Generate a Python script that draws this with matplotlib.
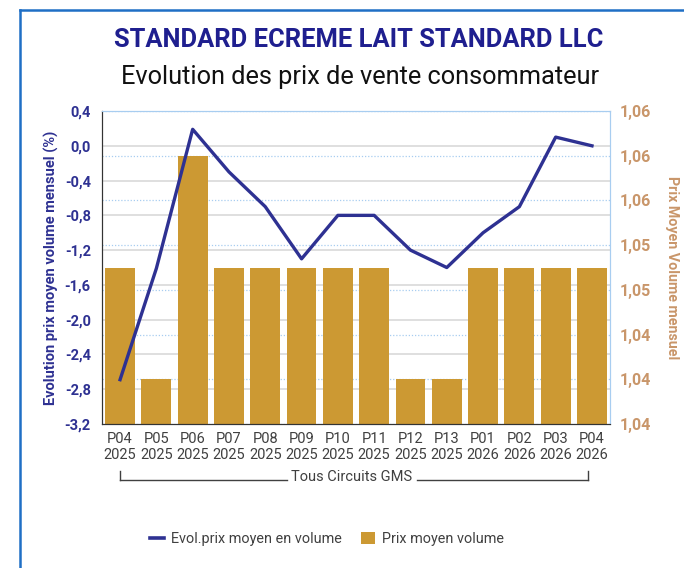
import matplotlib
matplotlib.use("Agg")
import matplotlib.pyplot as plt
from matplotlib.lines import Line2D
from matplotlib.patches import Patch

plt.rcParams["font.family"] = ["Roboto", "DejaVu Sans"]

periods = ["P04", "P05", "P06", "P07", "P08", "P09", "P10",
           "P11", "P12", "P13", "P01", "P02", "P03", "P04"]
years = ["2025"] * 10 + ["2026"] * 4
evol_pct = [-2.69, -1.41, 0.19, -0.30, -0.70, -1.30, -0.80,
            -0.80, -1.20, -1.40, -1.00, -0.70, 0.10, 0.00]
prix_moyen = [1.05, 1.04, 1.06, 1.05, 1.05, 1.05, 1.05,
              1.05, 1.04, 1.04, 1.05, 1.05, 1.05, 1.05]
left_ticks = [-3.2, -2.8, -2.4, -2.0, -1.6, -1.2, -0.8, -0.4, 0.0, 0.4]
right_ticks = [1.036, 1.040, 1.044, 1.048, 1.052, 1.056, 1.060, 1.064]

NAVY = "#2e3192"
GOLD = "#cc9933"
TAN = "#c9966a"
GREY = "#404040"

fig = plt.figure(figsize=(6.84, 5.68), dpi=100)
ax = fig.add_axes([0.149, 0.2535, 0.743, 0.551])
ax2 = ax.twinx()

# bars belong to the right axis, line to the left one
ax.set_zorder(ax2.get_zorder() + 1)
ax.patch.set_visible(False)

x = list(range(len(periods)))
ax2.bar(x, [v - right_ticks[0] for v in prix_moyen], bottom=right_ticks[0],
        width=0.82, color=GOLD, zorder=2)
ax2.set_ylim(right_ticks[0], right_ticks[-1])
ax2.set_yticks(right_ticks)
ax2.set_yticklabels([f"{v:.2f}".replace(".", ",") for v in right_ticks],
                    fontweight="bold")
ax2.tick_params(axis="y", colors=TAN, labelsize=11.5, length=0, pad=7)
ax2.grid(axis="y", color="#a8cdf0", linestyle=(0, (1, 1.5)), linewidth=0.9)
ax2.set_ylabel("Prix Moyen Volume mensuel", rotation=270, labelpad=20,
               color=TAN, fontsize=10.3, fontweight="bold")

ax.plot(x, evol_pct, color=NAVY, linewidth=2.4, zorder=4)
ax.set_ylim(left_ticks[0], left_ticks[-1])
ax.set_yticks(left_ticks)
ax.set_yticklabels([f"{v:.1f}".replace(".", ",") for v in left_ticks],
                   fontweight="bold")
ax.tick_params(axis="y", colors=NAVY, labelsize=10.5, length=0, pad=8)
ax.set_ylabel("Evolution prix moyen volume mensuel (%)", color=NAVY,
              fontsize=10.5, fontweight="bold", labelpad=4)

ax.set_xlim(-0.5, len(periods) - 0.5)
ax.set_xticks(x)
ax.set_xticklabels([f"{p}\n{y}" for p, y in zip(periods, years)],
                   color=GREY, fontsize=10.5, linespacing=1.15)
ax.tick_params(axis="x", length=0, pad=6)

# solid grey grid of the left axis, drawn under the bars
for t in left_ticks[1:-1]:
    ax2.axhline(right_ticks[0] + (t - left_ticks[0]) / (left_ticks[-1] - left_ticks[0])
                * (right_ticks[-1] - right_ticks[0]),
                color="#d9d9d9", linewidth=1.2, zorder=0.5)

for a in (ax, ax2):
    a.spines["top"].set_color("#a8cdf0")
    a.spines["right"].set_color("#a8cdf0")
    a.spines["left"].set_color("#333333")
    a.spines["bottom"].set_color("#333333")

# group bracket under the axis
y_br = 1 - 480 / 568
fig.add_artist(Line2D([120 / 684, 287 / 684], [y_br, y_br], color=GREY, lw=1))
fig.add_artist(Line2D([417 / 684, 588 / 684], [y_br, y_br], color=GREY, lw=1))
fig.add_artist(Line2D([120 / 684, 120 / 684], [y_br, y_br + 9 / 568], color=GREY, lw=1))
fig.add_artist(Line2D([588 / 684, 588 / 684], [y_br, y_br + 9 / 568], color=GREY, lw=1))
fig.text(352 / 684, 1 - 477 / 568, "Tous Circuits GMS", ha="center", va="center",
         color=GREY, fontsize=10.5)

fig.text(359 / 684, 1 - 40 / 568, "STANDARD ECREME LAIT STANDARD LLC", ha="center",
         va="center", color="#1f1f8f", fontsize=18.4, fontweight="bold")
fig.text(360 / 684, 1 - 77 / 568, "Evolution des prix de vente consommateur",
         ha="center", va="center", color="#111111", fontsize=18.3)

handles = [Line2D([0], [0], color=NAVY, lw=2.6),
           Patch(facecolor=GOLD, edgecolor="none")]
fig.legend(handles, ["Evol.prix moyen en volume", "Prix moyen volume"],
           loc="center", bbox_to_anchor=(327 / 684, 1 - 539 / 568), ncol=2,
           frameon=False, fontsize=10.4, handlelength=1.0, handleheight=0.9,
           columnspacing=1.3, handletextpad=0.5, labelcolor=GREY)

# outer frame
fig.add_artist(Line2D([20 / 684, 20 / 684], [0, 1 - 10 / 568], color="#1f6fc5", lw=1.8))
fig.add_artist(Line2D([20 / 684, 1], [1 - 10 / 568, 1 - 10 / 568], color="#1f6fc5", lw=1.8))

fig.savefig("out.png", dpi=100)
